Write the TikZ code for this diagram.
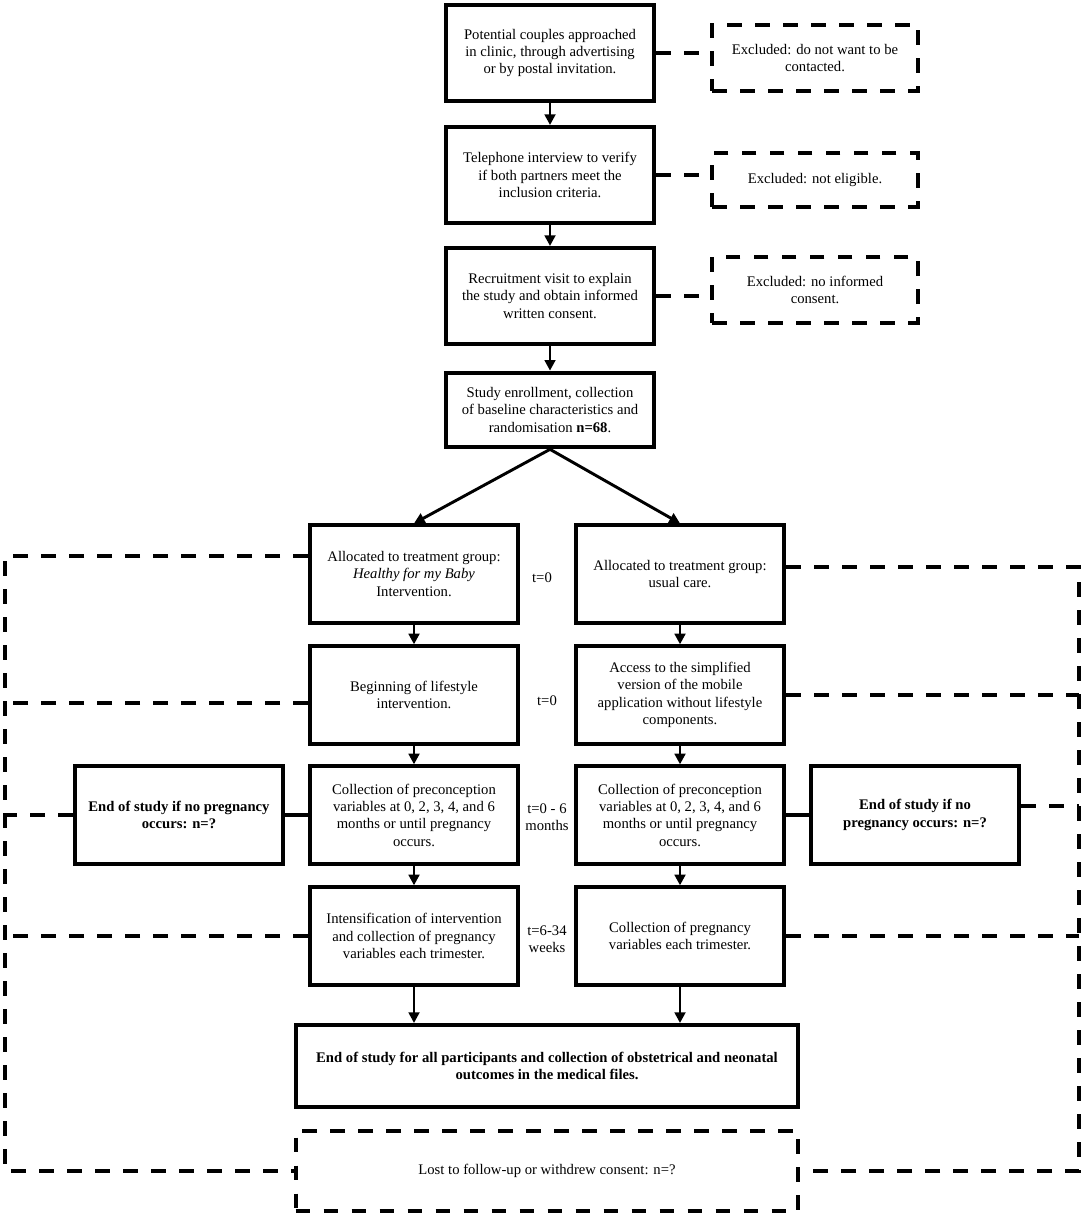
\documentclass[tikz,border=0pt]{standalone}
\usepackage{fontspec}
\setmainfont{Liberation Serif}
\usepackage{tikz}
\usetikzlibrary{calc,positioning,arrows.meta}

\begin{document}
\begin{tikzpicture}[
  x=0.75pt, y=-0.75pt,
  every node/.style={font=\fontsize{11}{13}\selectfont, align=center, inner sep=2pt},
  box/.style={rectangle,draw=black,line width=3pt,minimum width=156pt,minimum height=73pt},
  exbox/.style={rectangle,draw=black,line width=3pt,dash pattern=on 11pt off 10pt,minimum width=154pt},
  dashline/.style={line width=3pt,dash pattern=on 11pt off 10pt},
  arr/.style={line width=2.2pt,-{Triangle[length=8pt,width=8pt]}},
  ]

  \useasboundingbox (0,0) rectangle (1084,1216);

  % recruitment
  \node (potential) [box,minimum height=72pt] at (550,53) {Potential couples approached\\in clinic, through advertising\\or by postal invitation.};
  \node (phone) [box,minimum height=72pt] at (550,175) {Telephone interview to verify\\if both partners meet the\\inclusion criteria.};
  \node (visit) [box,minimum height=72pt] at (550,296) {Recruitment visit to explain\\the study and obtain informed\\written consent.};
  \node (enrol) [box,minimum height=56pt] at (550,410) {Study enrollment, collection\\of baseline characteristics and\\randomisation \textbf{n=68}.};

  \node (excl_1) [exbox,minimum height=50pt] at (815,58) {Excluded: do not want to be\\contacted.};
  \node (excl_2) [exbox,minimum height=40pt] at (815,180) {Excluded: not eligible.};
  \node (excl_3) [exbox,minimum height=49pt] at (815,290) {Excluded: no informed\\consent.};

  \foreach \a/\b in {potential/excl_1,phone/excl_2,visit/excl_3}
    \draw[dashline] (\a.east) -- (\a.east -| \b.west);

  \draw[arr] (potential) -- (phone);
  \draw[arr] (phone) -- (visit);
  \draw[arr] (visit) -- (enrol);

  % the two groups
  \node (alloc_int) [box] at (414,574) {Allocated to treatment group:\\\textit{Healthy for my Baby}\\Intervention.};
  \node (alloc_usual) [box] at (680,574) {Allocated to treatment group:\\usual care.};
  \node (begin_int) [box] at (414,695) {Beginning of lifestyle\\intervention.};
  \node (begin_usual) [box] at (680,695) {Access to the simplified\\version of the mobile\\application without lifestyle\\components.};
  \node (precon_int) [box] at (414,815) {Collection of preconception\\variables at 0, 2, 3, 4, and 6\\months or until pregnancy\\occurs.};
  \node (precon_usual) [box] at (680,815) {Collection of preconception\\variables at 0, 2, 3, 4, and 6\\months or until pregnancy\\occurs.};
  \node (preg_int) [box] at (414,936) {Intensification of intervention\\and collection of pregnancy\\variables each trimester.};
  \node (preg_usual) [box] at (680,936) {Collection of pregnancy\\variables each trimester.};

  \node (stop_int) [box] at (179,815) {\textbf{End of study if no pregnancy}\\\textbf{occurs: n=?}};
  \node (stop_usual) [box] at (915,815) {\textbf{End of study if no}\\\textbf{pregnancy occurs: n=?}};

  \node (final) [box,minimum width=377pt,minimum height=61.5pt] at (547,1066) {\textbf{End of study for all participants and collection of obstetrical and neonatal}\\\textbf{outcomes in the medical files.}};
  \node (lost) [exbox,minimum width=377pt,minimum height=60pt] at (547,1171) {Lost to follow-up or withdrew consent: n=?};

  % time labels
  \node (time_a) at ($(alloc_int.east)!0.5!(alloc_usual.west)+(-5,4)$) {t=0};
  \node (time_b) at ($(begin_int.east)!0.5!(begin_usual.west)+(0,6)$) {t=0};
  \node (time_c) at ($(precon_int.east)!0.5!(precon_usual.west)+(0,2)$) {t=0 - 6\\months};
  \node (time_d) at ($(preg_int.east)!0.5!(preg_usual.west)+(0,3)$) {t=6-34\\weeks};

  \draw[arr] (enrol.south) -- (alloc_int.north);
  \draw[arr] (enrol.south) -- (alloc_usual.north);

  \foreach \g in {int,usual}
  {
    \draw[arr] (alloc_\g) -- (begin_\g);
    \draw[arr] (begin_\g) -- (precon_\g);
    \draw[arr] (precon_\g) -- (preg_\g);
    \draw[arr] (preg_\g.south) -- (preg_\g.south |- final.north);
  }

  \draw[line width=2.5pt] (stop_int) -- (precon_int);
  \draw[line width=2.5pt] (precon_usual) -- (stop_usual);

  % withdrawal frame
  \coordinate (corner_left) at (5,1171);
  \coordinate (corner_right) at (1079,1171);
  \coordinate (left_a) at ($(alloc_int.west)+(0,-18)$);
  \coordinate (left_b) at ($(begin_int.west)+(0,8)$);
  \coordinate (right_a) at ($(alloc_usual.east)+(0,-7)$);
  \coordinate (right_c) at ($(stop_usual.east)+(0,-9)$);

  \draw[dashline] (left_a) -| (corner_left) -- (lost.west);
  \draw[dashline] (right_a) -| (corner_right) -- (lost.east);
  \foreach \c in {left_b,stop_int.west,preg_int.west}
    \draw[dashline] (\c) -- (\c -| corner_left);
  \foreach \c in {begin_usual.east,right_c,preg_usual.east}
    \draw[dashline] (\c) -- (\c -| corner_right);

\end{tikzpicture}
\end{document}
